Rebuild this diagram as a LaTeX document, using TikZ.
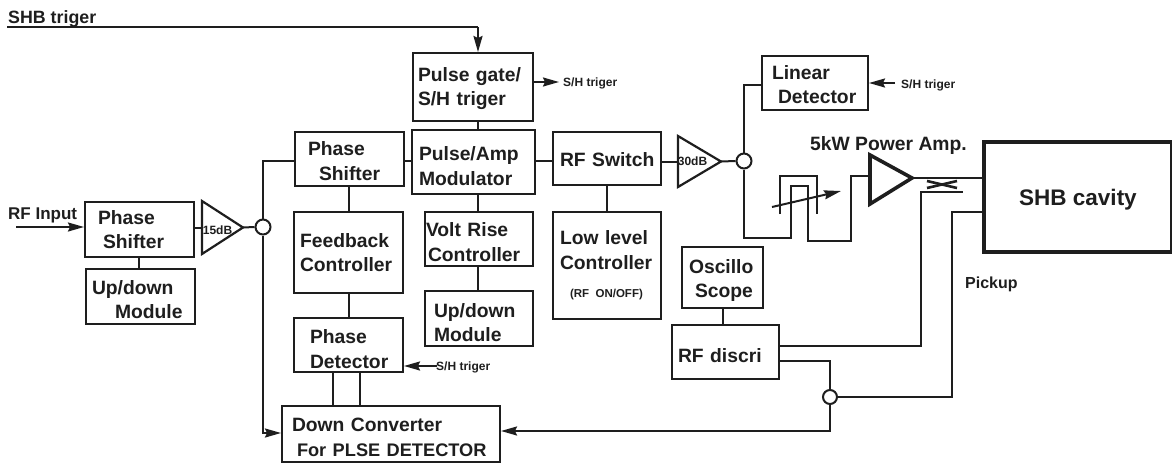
\documentclass[tikz,border=0pt]{standalone}
\usepackage{fontspec}
\setmainfont{Liberation Sans}[BoldFont={Liberation Sans Bold}]
\usetikzlibrary{arrows.meta}
\definecolor{ink}{HTML}{1E1E1E}
% name, x1, y1, x2, y2, left padding, text
\newcommand{\bx}[7]{\node[box,minimum width={#4-#2},minimum height={#5-#3},text width={#4-#2-2*#6}] (#1) at ({(#2+#4)/2},{(#3+#5)/2}) {#7};}
% moves the text block of a box down by #1 pt
\newcommand{\dn}[1]{\rule{0pt}{\dimexpr 14.2pt+#1pt+#1pt\relax}}
\tikzset{
  box/.style={draw=ink,line width=2pt,fill=white,inner sep=0pt,align=left,text=ink,font=\bfseries\fontsize{19.3}{24.5}\selectfont},
  wire/.style={draw=ink,line width=2pt},
  arrowwire/.style={wire,-{Stealth[length=16pt,width=9pt,inset=2pt]}},
  amp/.style={draw=ink,line width=2.2pt,fill=white,line join=miter},
  bigamp/.style={draw=ink,line width=3.6pt,fill=white,line join=miter},
  junction/.style={circle,draw=ink,line width=2pt,fill=white,inner sep=0pt,minimum size=15pt},
  lab/.style={text=ink,inner sep=0pt,font=\bfseries\fontsize{17}{20}\selectfont,anchor=base west},
  small/.style={text=ink,inner sep=0pt,font=\bfseries\fontsize{12}{14}\selectfont,anchor=base west},
  gain/.style={text=ink,inner sep=0pt,font=\bfseries\fontsize{12}{14}\selectfont},
  cavedge/.style={draw=ink,line width=4pt,line cap=butt,line join=miter}
}
\begin{document}
\begin{tikzpicture}[x=1pt,y=-1pt]
\useasboundingbox (0,0) rectangle (1172,466);
% boxes
\bx{psa}{85}{202}{194}{257}{13}{Phase\\\hspace*{5pt}Shifter}
\bx{uda}{86}{269}{195}{324}{6}{\dn{3}Up/down\\\hspace*{23pt}Module}
\bx{psb}{295}{132}{404}{186}{13}{\dn{2}Phase\\\hspace*{11pt}Shifter}
\bx{fb}{294}{212}{403}{293}{6}{Feedback\\Controller}
\bx{pd}{294}{318}{403}{372}{16}{\dn{4}Phase\\\mbox{Detector}}
\bx{dc}{282}{406}{500}{462}{10}{\dn{3}\mbox{Down Converter}\\\hspace*{5pt}\mbox{\fontsize{18.2}{24}\selectfont For PLSE DETECTOR}}
\bx{pg}{413}{53}{533}{121}{5}{\dn{1.5}\mbox{Pulse gate/}\\\mbox{S/H triger}}
\bx{pm}{412}{130}{535}{194}{7}{\dn{4}\mbox{Pulse/Amp}\\Modulator}
\bx{rfs}{553}{132}{661}{185}{7}{\dn{1}\mbox{RF Switch}}
\bx{vr}{425}{212}{533}{266}{1}{\dn{3}\mbox{Volt Rise}\\\hspace*{2pt}Controller}
\bx{udb}{425}{291}{533}{346}{9}{\dn{4}Up/down\\Module}
\bx{ll}{553}{212}{661}{319}{7}{\mbox{Low level}\\Controller\\[4pt]\hspace*{10pt}\mbox{\fontsize{11.5}{14}\selectfont(RF ON/OFF)}}
\bx{osc}{682}{247}{763}{308}{7}{\dn{3}Oscillo\\\hspace*{6pt}Scope}
\bx{rfd}{672}{325}{779}{379}{6}{\dn{3}\mbox{RF discri}}
\bx{ld}{762}{56}{868}{110}{10}{\dn{1.5}Linear\\\hspace*{6pt}Detector}
\node[box,line width=1.2pt,minimum width=186pt,minimum height=108pt,align=center,font=\bfseries\fontsize{22.5}{26}\selectfont] (cav) at (1078,197) {\rule{0pt}{22pt}SHB cavity};
\draw[cavedge] (cav.north east) -- (cav.north west) -- (cav.south west) -- (cav.south east);
% amplifiers
\coordinate (taw) at (201,227.5); \coordinate (tae) at (243,227.5);
\draw[amp] (202,201) -- (243,227.5) -- (202,254) -- cycle;
\node[gain] (g15) at (217.5,230) {15dB};
\coordinate (tbw) at (677,161.5); \coordinate (tbe) at (721,161.5);
\draw[amp] (678,136) -- (721,161.5) -- (678,187) -- cycle;
\node[gain] (g30) at (692.5,161.5) {30dB};
\coordinate (tcw) at (868,178); \coordinate (tce) at (912,178);
\draw[bigamp] (870,155) -- (912,178) -- (870,204) -- cycle;
% junctions
\node[junction] (ja) at (263,227) {};
\node[junction] (jb) at (744,161) {};
\node[junction,minimum size=14pt] (jc) at (830,397) {};
% SHB trigger
\coordinate (shbs) at (7,27);
\coordinate (shbc) at (478,27);
\node[lab,font=\bfseries\fontsize{17.8}{20}\selectfont] (shbt) at (8,23) {SHB triger};
\draw[wire] (shbs) -- (shbc);
\draw[arrowwire] (shbc) -- (shbc |- pg.north);
% input
\coordinate (rfi) at (16,227);
\node[lab] (rfl) at (8,219) {RF Input};
\draw[arrowwire] (rfi) -- (rfi -| psa.west);
% main wires
\draw[wire] (139,257) -- (139,269);
\draw[wire] (psa.east |- taw) -- (taw);
\draw[wire] (tae) -- (ja.west);
\draw[wire] (ja.north) |- (psb.west |- 0,161);
\draw[arrowwire] (ja.south) |- (dc.west |- 0,433);
\draw[wire] (349,186) -- (349,212);
\draw[wire] (349,293) -- (349,318);
\draw[wire] (333,372) -- (333,406);
\draw[wire] (360,372) -- (360,406);
\draw[wire] (psb.east |- 0,161) -- (pm.west |- 0,161);
\draw[wire] (478,121) -- (478,130);
\draw[wire] (pm.east |- 0,161) -- (rfs.west |- 0,161);
\draw[wire] (478,194) -- (478,212);
\draw[wire] (478,266) -- (478,291);
\draw[wire] (rfs.east |- tbw) -- (tbw);
\draw[wire] (607,185) -- (607,212);
\draw[wire] (tbe) -- (jb.west);
\draw[wire] (jb.north) |- (ld.west |- 0,85);
\draw[wire] (723,308) -- (723,325);
% delay line
\coordinate (dl1) at (791,186); \coordinate (dl2) at (808,186);
\draw[wire] (jb.south) |- (791,238) -- (dl1) -- (dl2) -- (808,241) -| (851,176) -- (tcw |- 0,176);
\coordinate (ua) at (780,214); \coordinate (ub) at (817,214);
\draw[wire] (ua) |- (817,176) -- (ub);
\coordinate (va) at (772,207); \coordinate (vb) at (841,191);
\draw[wire,-{Stealth[length=17pt,width=9pt,inset=2pt]}] (va) -- (vb);
% coupler
\draw[wire] (tce) -- (cav.west |- tce);
\coordinate (xa) at (927,181); \coordinate (xb) at (957,188);
\coordinate (xc) at (927,188); \coordinate (xd) at (957,181);
\draw[wire,line width=2.6pt] (xa) -- (xb);
\draw[wire,line width=2.6pt] (xc) -- (xd);
\draw[wire] (rfd.east |- 0,346) -| (921,192) -- (963,192);
\draw[wire] (cav.west |- 0,212) -| (952,397) -- (jc.east);
\draw[wire] (rfd.east |- 0,361) -| (jc.north);
\draw[arrowwire] (jc.south) |- (dc.east |- 0,431);
% triggers
\coordinate (sa) at (559,82);
\draw[arrowwire] (pg.east |- sa) -- (sa);
\node[small] (sal) at (563,86) {S/H triger};
\coordinate (sb) at (895,83);
\draw[arrowwire] (sb) -- (ld.east |- sb);
\node[small] (sbl) at (901,88) {S/H triger};
\coordinate (sc) at (437,366);
\draw[arrowwire] (sc) -- (pd.east |- sc);
\node[small] (scl) at (436,370) {S/H triger};
% labels
\node[lab,font=\bfseries\fontsize{19.3}{22}\selectfont] (pal) at (810,150) {5kW Power Amp.};
\node[lab,font=\bfseries\fontsize{16}{18}\selectfont] (pu) at (965,288) {Pickup};
\end{tikzpicture}
\end{document}
